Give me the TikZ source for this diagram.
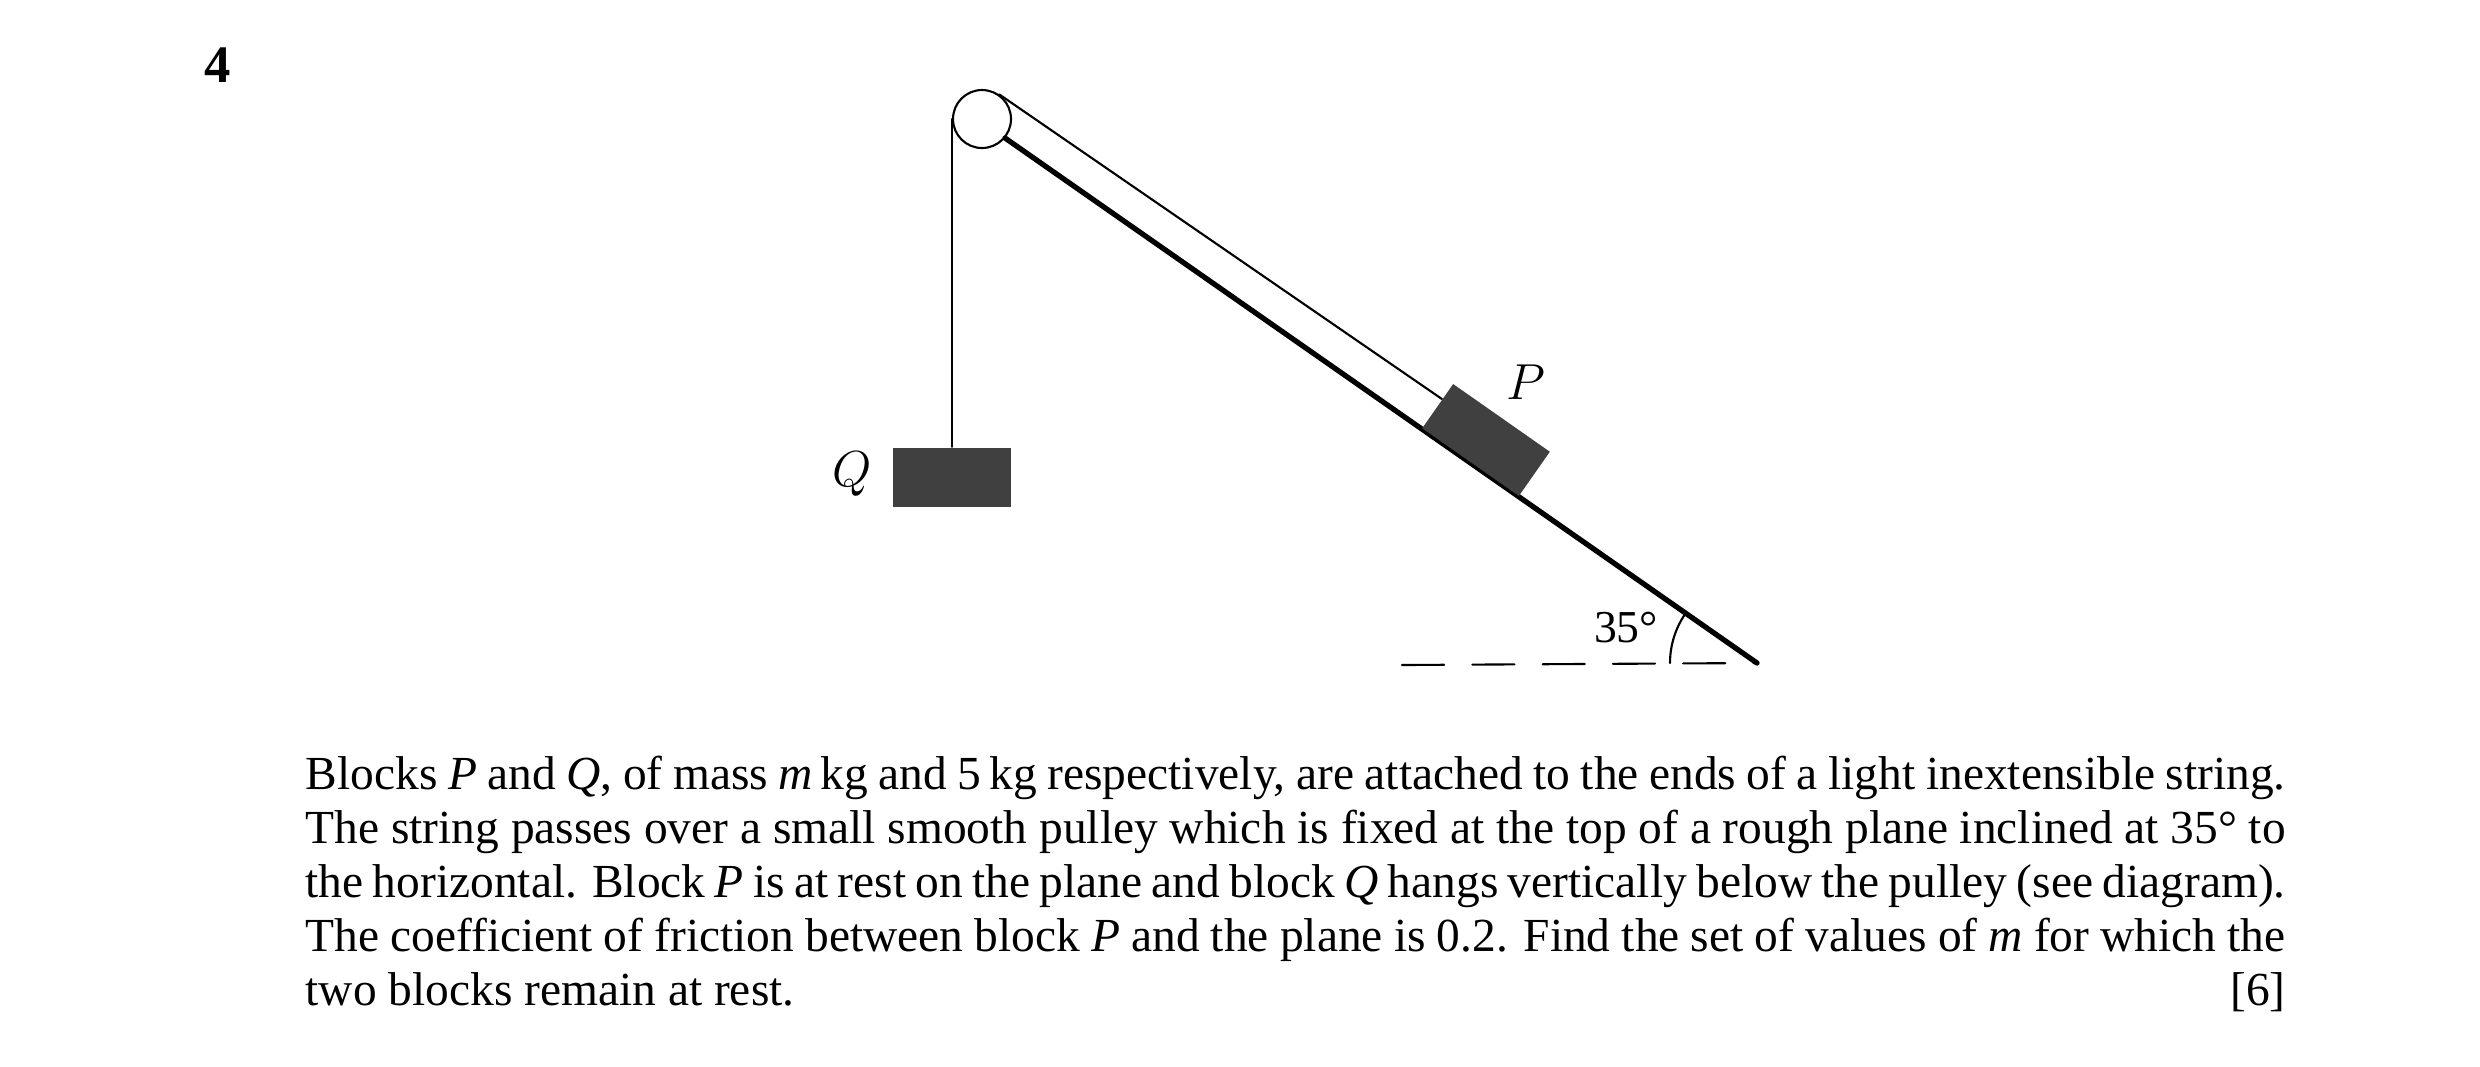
\documentclass[tikz,border=0pt]{standalone}
\usepackage{fontspec}
\setmainfont{Liberation Serif}
\usepackage{tikz}
\usetikzlibrary{calc}

\begin{document}
\begin{tikzpicture}[x=0.1mm,y=-0.1mm,line cap=round,
  string/.style={line width=0.6pt},
  block/.style={fill=black!75,draw=none,inner sep=0pt},
  lbl/.style={font=\fontsize{15.5}{18}\selectfont\itshape}]
\useasboundingbox (0,0) rectangle (2480,1066);

\node at (218,65) {\fontsize{15}{18}\selectfont\bfseries 4};

% plane and pulley
\coordinate (top) at (1005,138);
\coordinate (apex) at (1757,663);
\draw [line width=1.5pt] (top) -- (apex);
\node (pulley) [circle,draw,line width=0.6pt,minimum size=58*0.1mm,inner sep=0pt] at (982,119) {};

% blocks
\node (Q) [block,minimum width=11.8mm,minimum height=5.9mm] at (952,477) {};
\node (P) [block,rotate=-35,minimum width=11.8mm,minimum height=5.4mm] at (1486,440) {};
\node at (852,474) [lbl] {$Q$};
\node at (1526,382) [lbl] {$P$};

% strings
\draw [string] (pulley.west) -- (Q.north -| pulley.west);
\draw [string] (pulley.55) -- ($(P.north west)!0.35!(P.south west)$);

% angle
\coordinate (h) at (1402,665);
\draw [dashed,line width=0.6pt,dash pattern=on 12pt off 8pt] (h) -- (apex);
\draw [line width=0.6pt] ($(apex)+(-87,0)$) arc [start angle=180,end angle=145,radius=8.7mm];
\node at (1626,628) {\fontsize{13}{15}\selectfont 35°};

% question text
\node (txt) [anchor=north west,text width=198mm,align=justify,inner sep=0pt,
  font=\fontsize{13.5}{15.4}\selectfont] at (305,755)
  {Blocks \textit{P} and \textit{Q}, of mass \textit{m}\,kg and 5\,kg respectively, are attached to the ends of a light inextensible string. The string passes over a small smooth pulley which is fixed at the top of a rough plane inclined at 35° to the horizontal. Block \textit{P} is at rest on the plane and block \textit{Q} hangs vertically below the pulley (see diagram). The coefficient of friction between block \textit{P} and the plane is 0.2. Find the set of values of \textit{m} for which the two blocks remain at rest.\hfill[6]};
\end{tikzpicture}
\end{document}
